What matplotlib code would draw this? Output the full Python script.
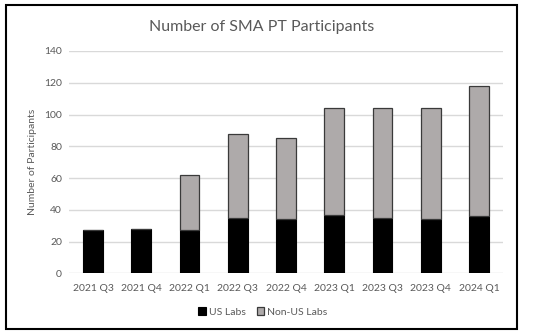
import matplotlib
matplotlib.use("Agg")
import matplotlib.pyplot as plt
from matplotlib.patches import Rectangle

categories = ["2021 Q3", "2021 Q4", "2022 Q1", "2022 Q3", "2022 Q4",
              "2023 Q1", "2023 Q3", "2023 Q4", "2024 Q1"]
us_labs = [27, 28, 27, 35, 34, 37, 35, 34, 36]
non_us_labs = [0, 0, 35, 53, 51, 67, 69, 70, 82]
yticks = [0, 20, 40, 60, 80, 100, 120, 140]

plt.rcParams['font.family'] = ['Lato', 'DejaVu Sans']
txt = '#595959'

fig = plt.figure(figsize=(5.5, 3.35), dpi=100)
ax = fig.add_axes([69/550, 1-273.3/335, (503-69)/550, (273.3-51)/335])

x = list(range(len(categories)))
w = 0.41
ax.bar(x, us_labs, width=w, color='black', edgecolor='black', linewidth=0.8,
       label='US Labs', zorder=3)
ax.bar(x, non_us_labs, width=w, bottom=us_labs, color='#AEAAAA',
       edgecolor='#3a3a3a', linewidth=0.9, label='Non-US Labs', zorder=3)

ax.set_xlim(-0.5, len(categories) - 0.5)
ax.set_ylim(0, 140)
ax.set_yticks(yticks)
ax.set_xticks(x)
ax.set_xticklabels(categories)
ax.grid(axis='y', color='#D9D9D9', linewidth=1.0, zorder=0)
for s in ax.spines.values():
    s.set_visible(False)
ax.tick_params(axis='both', length=0, colors=txt, labelsize=7.5)
ax.tick_params(axis='x', pad=8)
ax.tick_params(axis='y', pad=5)
ax.set_ylabel('Number of Participants', color=txt, fontsize=7.5)
ax.yaxis.set_label_coords((37 - 69) / 434, 0.5)

fig.text(262/550, 1-27/335, 'Number of SMA PT Participants', ha='center',
         va='center', color=txt, fontsize=11.5)

leg = fig.legend(loc='center', bbox_to_anchor=(263/550, 1-312/335), ncol=2,
                 frameon=False, fontsize=7.5, handlelength=0.75, handleheight=0.75,
                 handletextpad=0.3, columnspacing=1.0)
for t in leg.get_texts():
    t.set_color(txt)

fig.patches.append(Rectangle((6/550, 1-329/335), (517-6)/550, (329-5)/335,
                             transform=fig.transFigure, fill=False,
                             edgecolor='black', linewidth=1.5))

fig.savefig('out.png', dpi=100, facecolor='white')
